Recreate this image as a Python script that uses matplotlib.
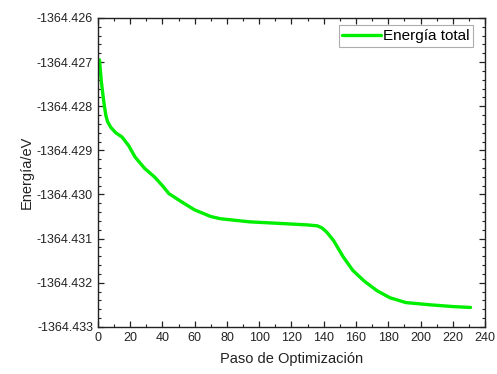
import matplotlib
matplotlib.use("Agg")
import matplotlib.pyplot as plt
from matplotlib.ticker import MultipleLocator, FormatStrFormatter

plt.rcParams['font.family'] = ['Liberation Sans', 'DejaVu Sans']

# Optimization step vs total energy (eV)
steps = [1, 2, 3, 4, 5, 6, 8, 11, 15, 19, 23, 29, 35, 40, 44, 52, 60, 70,
         76, 94, 115, 130, 136, 139, 142, 146, 152, 158, 165, 173, 181,
         191, 206, 220, 231]
energy = [-1364.42695, -1364.42740, -1364.42771, -1364.42800, -1364.42822,
          -1364.42835, -1364.42848, -1364.42860, -1364.42870, -1364.42889,
          -1364.42915, -1364.42941, -1364.42960, -1364.42980, -1364.42998,
          -1364.43017, -1364.43035, -1364.43050, -1364.43055, -1364.43062,
          -1364.43066, -1364.43069, -1364.43071, -1364.43076, -1364.43086,
          -1364.43104, -1364.43141, -1364.43172, -1364.43196, -1364.43218,
          -1364.43234, -1364.43245, -1364.43250, -1364.43254, -1364.43256]

fig = plt.figure(figsize=(4.97, 3.74), dpi=100)
ax = fig.add_axes([0.197, 0.126, 0.779, 0.826])

ax.plot(steps, energy, color='#00ee00', lw=2.4, label='Energía total',
        solid_capstyle='round', solid_joinstyle='round')

ax.set_xlim(0, 240)
ax.set_ylim(-1364.433, -1364.426)
ax.xaxis.set_major_locator(MultipleLocator(20))
ax.xaxis.set_minor_locator(MultipleLocator(10))
ax.yaxis.set_major_locator(MultipleLocator(0.001))
ax.yaxis.set_minor_locator(MultipleLocator(0.0002))
ax.yaxis.set_major_formatter(FormatStrFormatter('%.3f'))

ax.tick_params(which='both', direction='in', top=True, right=True,
               labelsize=9, color='#222222', labelcolor='#222222')
ax.tick_params(which='major', length=4, width=0.9)
ax.tick_params(which='minor', length=2, width=0.8)
for s in ax.spines.values():
    s.set_linewidth(1.0)
    s.set_color('#222222')

ax.set_xlabel('Paso de Optimización', fontsize=10.5, labelpad=6,
              color='#222222')
ax.set_ylabel('Energía/eV', fontsize=10.5, labelpad=2, color='#222222')

leg = ax.legend(loc='upper right', fontsize=11, frameon=True, fancybox=False,
                handlelength=2.5, borderpad=0.25, handletextpad=0.15,
                borderaxespad=0, bbox_to_anchor=(0.952, 0.933),
                bbox_transform=fig.transFigure)
leg.get_frame().set_edgecolor('#999999')
leg.get_frame().set_linewidth(0.8)

fig.savefig('out.png', dpi=100)
